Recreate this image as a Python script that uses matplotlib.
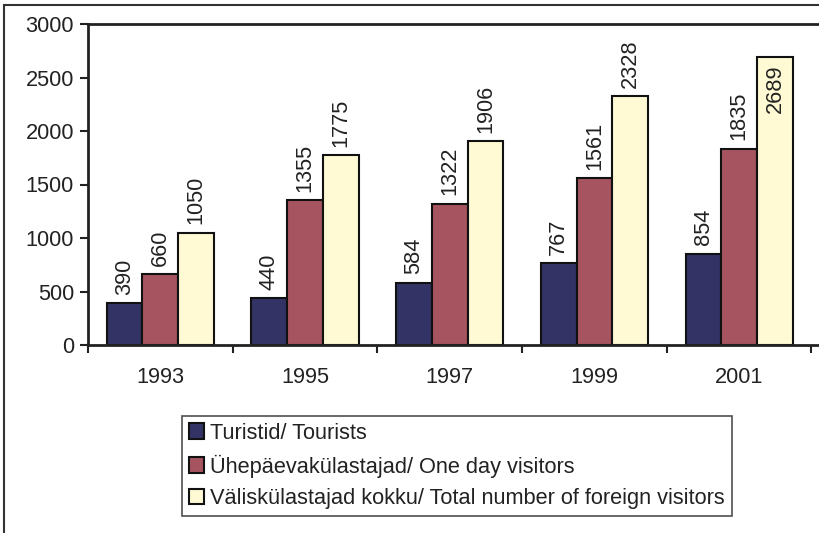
import matplotlib
matplotlib.use("Agg")
import matplotlib.pyplot as plt
import numpy as np
from matplotlib.patches import Rectangle

years = ["1993", "1995", "1997", "1999", "2001"]
tourists = [390, 440, 584, 767, 854]
one_day = [660, 1355, 1322, 1561, 1835]
total = [1050, 1775, 1906, 2328, 2689]
series_names = ["Turistid/ Tourists",
                "Ühepäevakülastajad/ One day visitors",
                "Väliskülastajad kokku/ Total number of foreign visitors"]
colors = ["#333366", "#A65460", "#FFFAD4"]

plt.rcParams['font.family'] = ['Liberation Sans', 'DejaVu Sans']
FS = 15.7

fig = plt.figure(figsize=(8.2, 5.33), dpi=100)
W, H = 820, 533
ax = fig.add_axes([88 / W, 1 - 345 / H, 740 / W, (345 - 24) / H])

x = np.arange(len(years))
bw = 0.247
series = [tourists, one_day, total]
for i, (vals, c, name) in enumerate(zip(series, colors, series_names)):
    pos = x + (i - 1) * bw
    ax.bar(pos, vals, width=bw, color=c, edgecolor='#111111', linewidth=1.5,
           label=name, zorder=2)
    for px_, v in zip(pos, vals):
        if v > 2600:
            ax.annotate(str(v), (px_, v), xytext=(0, -5), textcoords='offset points',
                        rotation=90, ha='center', va='top', fontsize=FS, color='#222222')
        else:
            ax.annotate(str(v), (px_, v), xytext=(0, 6), textcoords='offset points',
                        rotation=90, ha='center', va='bottom', fontsize=FS, color='#222222')

ax.set_ylim(0, 3000)
ax.set_xlim(-0.5, -0.5 + 740 / 144.7)
ax.set_yticks(range(0, 3001, 500))
ax.set_xticks(np.arange(-0.5, 5.0, 1.0))
ax.set_xticklabels([])
ax.set_xticks(x, minor=True)
ax.set_xticklabels(years, minor=True)
ax.tick_params(axis='x', which='minor', length=0, pad=16, labelsize=FS, labelcolor='#222222')
ax.tick_params(axis='x', which='major', direction='out', length=6, width=1.5, color='#222222')
ax.tick_params(axis='y', direction='out', length=6, width=1.5, color='#222222',
               labelsize=FS, labelcolor='#222222', pad=4)
for s in ['left', 'bottom', 'top', 'right']:
    ax.spines[s].set_linewidth(2)
    ax.spines[s].set_color('#222222')
ax.set_facecolor('white')

# figure border (cropped at right/bottom)
fig.patches.append(Rectangle((4 / W, -0.1), 1.2, (1 - 5 / H) + 0.1, transform=fig.transFigure,
                             fill=False, edgecolor='#333333', linewidth=1.5))

leg = fig.legend(loc='upper left', bbox_to_anchor=(182 / W, 1 - 416 / H),
                 frameon=True, fancybox=False, fontsize=FS, handlelength=0.7,
                 handleheight=0.7, handletextpad=0.3, labelspacing=0.5,
                 borderpad=0.3, borderaxespad=0)
leg.get_frame().set_edgecolor('#222222')
leg.get_frame().set_linewidth(1.2)
for t in leg.get_texts():
    t.set_color('#222222')

fig.savefig('out.png', dpi=100)
